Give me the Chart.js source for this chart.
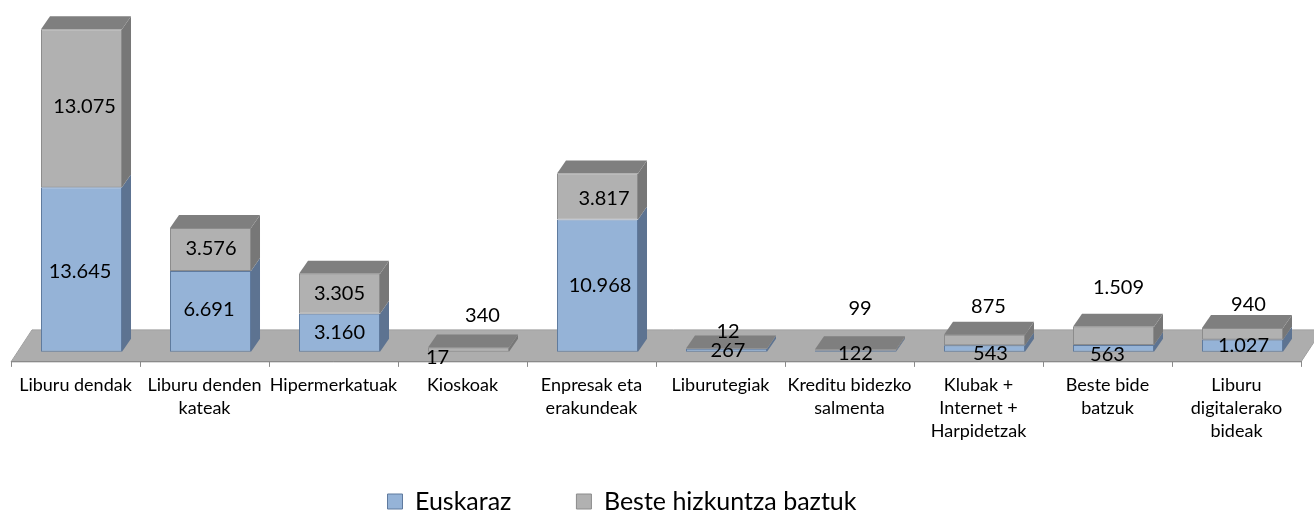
<!DOCTYPE html>
<html><head><meta charset="utf-8">
<style>html,body{margin:0;padding:0;background:#fff}canvas{display:block}</style>
<script src="https://cdn.jsdelivr.net/npm/chart.js@4"></script>
</head><body><canvas id="c" width="1314" height="511"></canvas>
<script>
const categories = [
  "Liburu dendak", ["Liburu denden","kateak"], "Hipermerkatuak", "Kioskoak",
  ["Enpresak eta","erakundeak"], "Liburutegiak", ["Kreditu bidezko","salmenta"],
  ["Klubak +","Internet +","Harpidetzak"], ["Beste bide","batzuk"],
  ["Liburu","digitalerako","bideak"]
];
const euskaraz = [13645, 6691, 3160, 17, 10968, 267, 122, 543, 563, 1027];
const besteak  = [13075, 3576, 3305, 340, 3817, 12, 99, 875, 1509, 940];
const seriesNames = ["Euskaraz", "Beste hizkuntza baztuk"];

// label nudges relative to the centre of each segment (layout only)
const nudgeBlue = [[-1.5,2],[-1.5,-2],[0,0],[-31,6],[2.5,0],[1.5,0],[0,2],[6,5],[-6,6],[1,0]];
const nudgeGrey = [[3,-2],[0.5,-1],[0,0],[14,-34],[6.5,2],[1.5,-17],[4.5,-41],[4,-33],[5,-48],[6,-29]];

const SHIFT = 6, DX = 9, DY = 13;
const fmt = v => String(v).replace(/\B(?=(\d{3})+$)/g, ".");
const FONT = "Lato, 'Open Sans', sans-serif";

const threeD = {
  id: "threeD",
  beforeDraw(chart) {
    const { ctx, chartArea: a } = chart;
    ctx.save();
    ctx.beginPath();
    ctx.moveTo(a.left, a.bottom);
    ctx.lineTo(a.left + 21, a.bottom - 32);
    ctx.lineTo(a.right + 21, a.bottom - 32);
    ctx.lineTo(a.right, a.bottom);
    ctx.closePath();
    ctx.fillStyle = "#ADADAD";
    ctx.fill();
    ctx.strokeStyle = "#A0A0A0";
    ctx.lineWidth = 1;
    ctx.stroke();
    ctx.restore();
  },
  beforeDatasetsDraw(chart) {
    const { ctx } = chart;
    const m0 = chart.getDatasetMeta(0).data, m1 = chart.getDatasetMeta(1).data;
    ctx.save();
    ctx.translate(SHIFT, 0);
    const side = (el, col) => {
      const r = el.x + el.width / 2;
      ctx.beginPath();
      ctx.moveTo(r, el.y);
      ctx.lineTo(r + DX, el.y - DY);
      ctx.lineTo(r + DX, el.base - DY);
      ctx.lineTo(r, el.base);
      ctx.closePath();
      ctx.fillStyle = col;
      ctx.fill();
    };
    m0.forEach((el, i) => {
      side(el, "#5D7391");
      const g = m1[i];
      side(g, "#777777");
      const l = g.x - g.width / 2, r = g.x + g.width / 2;
      ctx.beginPath();
      ctx.moveTo(l, g.y);
      ctx.lineTo(l + DX, g.y - DY);
      ctx.lineTo(r + DX, g.y - DY);
      ctx.lineTo(r, g.y);
      ctx.closePath();
      ctx.fillStyle = "#7F7F7F";
      ctx.fill();
    });
    // the library draws the front faces in the same translated frame
  },
  afterDatasetsDraw(chart) {
    const { ctx } = chart;
    ctx.restore();
    ctx.save();
    ctx.font = "20px " + FONT;
    ctx.fillStyle = "#000";
    ctx.textAlign = "center";
    ctx.textBaseline = "middle";
    [[0, euskaraz, nudgeBlue], [1, besteak, nudgeGrey]].forEach(([d, vals, nudge]) => {
      chart.getDatasetMeta(d).data.forEach((el, i) => {
        ctx.fillText(fmt(vals[i]), el.x + SHIFT + nudge[i][0], (el.y + el.base) / 2 + nudge[i][1]);
      });
    });
    ctx.restore();
  },
  afterLayout(chart) {
    chart.legend.left = 322.5;
    chart.legend.top = 511 - 22 - 65;
    chart.legend.bottom = 511;
  }
};

new Chart(document.getElementById("c"), {
  type: "bar",
  data: {
    labels: categories,
    datasets: [
      { label: seriesNames[0], data: euskaraz, backgroundColor: "#95B3D7", borderColor: "#5F7A9E", borderWidth: 1, borderSkipped: false },
      { label: seriesNames[1], data: besteak, backgroundColor: "#B1B1B1", borderColor: "#8C8C8C", borderWidth: 1, borderSkipped: false }
    ]
  },
  options: {
    responsive: false,
    animation: false,
    events: [],
    layout: { padding: { left: 11, right: 13, top: 10, bottom: 0 } },
    datasets: { bar: { categoryPercentage: 1, barPercentage: 0.628 } },
    scales: {
      x: {
        stacked: true,
        border: { color: "#8A8A8A" },
        grid: { drawOnChartArea: false, tickLength: 5, color: "#8A8A8A" },
        ticks: { autoSkip: false, maxRotation: 0, minRotation: 0, padding: 7, color: "#000",
                 font: { family: FONT, size: 18, lineHeight: 1.28 } }
      },
      y: { stacked: true, display: false, min: -830, max: 28320 }
    },
    plugins: {
      tooltip: { enabled: false },
      legend: {
        position: "bottom",
        align: "start",
        maxHeight: 61,
        labels: { boxWidth: 15, boxHeight: 15, padding: 65, color: "#000",
                  font: { family: FONT, size: 25 } }
      }
    }
  },
  plugins: [threeD]
});
</script></body></html>
